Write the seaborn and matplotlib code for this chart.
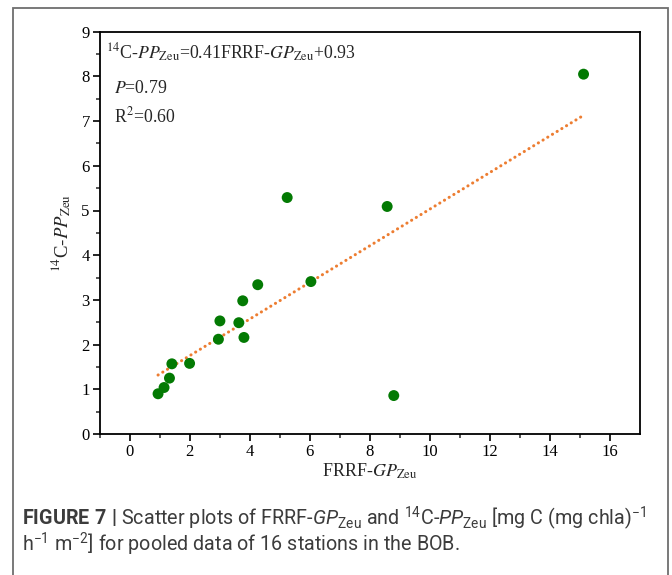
import matplotlib
matplotlib.use("Agg")
import matplotlib.pyplot as plt
from matplotlib import font_manager
from matplotlib.patches import Rectangle
import seaborn as sns
import pandas as pd

# data (16 stations)
frrf_gp = [0.95, 1.15, 1.33, 1.41, 2.00, 2.96, 3.01, 3.64, 3.77, 3.81,
           4.27, 5.25, 6.04, 8.58, 8.80, 15.12]
c14_pp = [0.90, 1.04, 1.25, 1.57, 1.58, 2.12, 2.53, 2.49, 2.98, 2.16,
          3.34, 5.29, 3.41, 5.09, 0.86, 8.05]
slope = 0.41
intercept = 0.93
x_ticks = [0, 2, 4, 6, 8, 10, 12, 14, 16]
y_ticks = [0, 1, 2, 3, 4, 5, 6, 7, 8, 9]

df = pd.DataFrame({"gp": frrf_gp, "pp": c14_pp})
xfit = [min(frrf_gp), max(frrf_gp)]
fit = pd.DataFrame({"gp": xfit, "pp": [slope * v + intercept for v in xfit]})

sns.set_theme(style="ticks")
cap_font = "Roboto"
plt.rcParams["font.family"] = ["Liberation Serif", "DejaVu Serif"]
plt.rcParams["mathtext.fontset"] = "custom"
plt.rcParams["mathtext.rm"] = cap_font
plt.rcParams["mathtext.it"] = cap_font + ":italic"
plt.rcParams["mathtext.bf"] = cap_font + ":bold"

W, H = 672, 575
fig = plt.figure(figsize=(W / 100, H / 100), dpi=100)
ax = fig.add_axes([99.5 / W, 1 - 434 / H, (640 - 99.5) / W, (434 - 31.7) / H])

sns.lineplot(data=fit, x="gp", y="pp", ax=ax, color="#ED7D31", lw=2.2,
             dashes=False)
ax.lines[-1].set_linestyle((0, (0.05, 1.75)))
ax.lines[-1].set_dash_capstyle("round")
sns.scatterplot(data=df, x="gp", y="pp", ax=ax, color="#037a03", s=62,
                edgecolor="none", zorder=3)

ax.set_xlim(-1, 17)
ax.set_ylim(0, 9)
ax.set_xticks(x_ticks)
ax.set_yticks(y_ticks)
ax.set_xticks([v + 1 for v in x_ticks[:-1]] + [-1 + 0.0001], minor=True)
ax.set_yticks([v + 0.5 for v in y_ticks[:-1]], minor=True)
ax.tick_params(which="major", direction="out", length=5, width=1.2,
               labelsize=12, colors="black", pad=2)
ax.tick_params(which="minor", direction="out", length=3, width=1.1)
for s in ax.spines.values():
    s.set_linewidth(1.3)
    s.set_color("black")
    s.set_visible(True)

ax.set_xlabel(r"FRRF-$GP_{\mathrm{Zeu}}$", fontsize=13, labelpad=1,
              math_fontfamily="stix")
ax.set_ylabel(r"$^{14}$C-$PP_{\mathrm{Zeu}}$", fontsize=13.5, labelpad=6,
              math_fontfamily="stix")

fig.text(106 / W, 1 - 59 / H,
         r"$^{14}$C-$PP_{\mathrm{Zeu}}$=0.41FRRF-$GP_{\mathrm{Zeu}}$+0.93",
         fontsize=12.8, math_fontfamily="stix", va="baseline")
fig.text(114 / W, 1 - 93 / H, r"$P$=0.79", fontsize=12.8,
         math_fontfamily="stix", va="baseline")
fig.text(114 / W, 1 - 122 / H, r"R$^{2}$=0.60", fontsize=12.8,
         math_fontfamily="stix", va="baseline")

# outer frame
fig.patches.append(Rectangle((12.5 / W, -0.05), (667.5 - 12.5) / W,
                             1.05 - 8 / H, transform=fig.transFigure,
                             fill=False, edgecolor="#6e6e6e", lw=1.3,
                             clip_on=False))

cap = dict(fontsize=14.2, family=[cap_font, "DejaVu Sans"], color="#3c3c3c",
           va="baseline")
fig.text(22 / W, 1 - 525 / H,
         r"$\mathbf{FIGURE\ 7\ |}$ Scatter plots of FRRF-$GP_{\mathrm{Zeu}}$ and "
         r"$^{14}$C-$PP_{\mathrm{Zeu}}$ [mg C (mg chla)$^{-1}$", **cap)
fig.text(22 / W, 1 - 551 / H,
         r"h$^{-1}$ m$^{-2}$] for pooled data of 16 stations in the BOB.", **cap)

fig.savefig("out.png", dpi=100)
